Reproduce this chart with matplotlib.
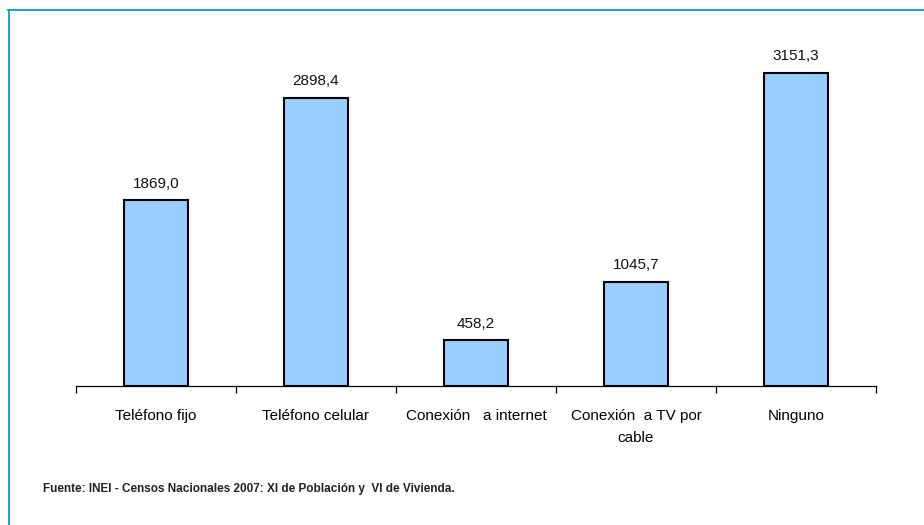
import matplotlib.pyplot as plt
from matplotlib.lines import Line2D
import numpy as np

# Data
categories = [
    "Teléfono fijo",
    "Teléfono celular",
    "Conexión   a internet",
    "Conexión  a TV por\ncable",
    "Ninguno",
]
values = [1869.0, 2898.4, 458.2, 1045.7, 3151.3]
value_labels = ["1869,0", "2898,4", "458,2", "1045,7", "3151,3"]
source_text = "Fuente: INEI - Censos Nacionales 2007: XI de Población y  VI de Vivienda."

plt.rcParams['font.family'] = ['Liberation Sans', 'DejaVu Sans']

fig = plt.figure(figsize=(9.24, 5.25), dpi=100)
W, H = 924, 525
# axes placed in pixel terms: baseline at y=386, x from 76 to 876
ax = fig.add_axes([76 / W, (H - 386) / H, 800 / W, (386 - 38.4) / H])

x = np.arange(len(categories))
ax.bar(x, values, width=0.4, color='#99ccff', edgecolor='black', linewidth=1.5, zorder=3)

for xi, v, lab in zip(x, values, value_labels):
    ax.annotate(lab, (xi, v), xytext=(0, 7), textcoords='offset points',
                ha='center', va='bottom', fontsize=11, color='#111111')

ax.set_xlim(-0.5, len(categories) - 0.5)
ax.set_ylim(0, 3500)
ax.set_yticks([])
for s in ['top', 'right', 'left']:
    ax.spines[s].set_visible(False)
ax.spines['bottom'].set_linewidth(0.9)

# category boundary ticks
ax.set_xticks(np.arange(-0.5, len(categories)), minor=False)
ax.set_xticklabels([])
ax.tick_params(axis='x', direction='out', length=5, width=0.9)
ax.set_xticks(x, minor=True)
ax.set_xticklabels(categories, minor=True, fontsize=11, linespacing=1.75)
ax.tick_params(axis='x', which='minor', length=0, pad=16.5)

# source line, fitted to the reference width
src = fig.text(43 / W, 1 - 489 / H, source_text, fontsize=10, fontweight='bold',
               color='#222222', va='center', ha='left')
fig.canvas.draw()
w = src.get_window_extent().width
if w > 409:
    src.set_fontsize(10 * 409 / w)

# blue frame (top and left only)
frame_color = '#0a97d9'
fig.add_artist(Line2D([8 / W, 1], [1 - 9.5 / H, 1 - 9.5 / H], color=frame_color, lw=1.3,
                      transform=fig.transFigure))
fig.add_artist(Line2D([8.5 / W, 8.5 / W], [0, 1 - 9.5 / H], color=frame_color, lw=1.3,
                      transform=fig.transFigure))

fig.savefig('out.png', dpi=100)
